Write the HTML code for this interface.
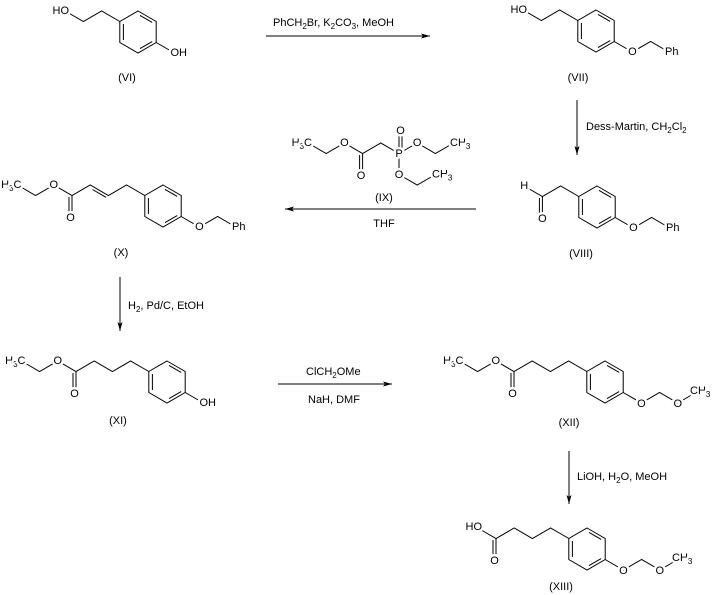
<!DOCTYPE html>
<html><head><meta charset="utf-8"><style>
html,body{margin:0;padding:0;background:#fff;}
svg{display:block;}
text{font-family:"Liberation Sans",Arial,sans-serif;font-size:11px;fill:#000;}
.a{paint-order:stroke;stroke:#fff;stroke-width:5px;stroke-linejoin:round;dominant-baseline:central;}
.l{dominant-baseline:central;}
</style></head><body>
<svg width="713" height="595" viewBox="0 0 713 595" xmlns="http://www.w3.org/2000/svg">
<defs>
<g id="ring" fill="none" stroke="#000" stroke-width="1">
<path d="M0,-21 L18.2,-10.5 L18.2,10.5 L0,21 L-18.2,10.5 L-18.2,-10.5 Z"/>
<path d="M-14.6,-8 L-14.6,8 M2,-16.6 L14.2,-9.6 M2,16.6 L14.2,9.6"/>
</g>
<marker id="ah" markerWidth="10" markerHeight="6" refX="9" refY="3" orient="auto" markerUnits="userSpaceOnUse">
<path d="M0,0.5 L9,3 L0,5.5 L2,3 Z" fill="#000"/>
</marker>
</defs>
<g stroke="#000" stroke-width="1" fill="none">
<!-- arrows -->
<line x1="266" y1="36" x2="430" y2="36" marker-end="url(#ah)"/>
<line x1="577" y1="100" x2="577" y2="155" marker-end="url(#ah)"/>
<line x1="476" y1="209" x2="285" y2="209" marker-end="url(#ah)"/>
<line x1="120" y1="277" x2="120" y2="331" marker-end="url(#ah)"/>
<line x1="278" y1="384" x2="392" y2="384" marker-end="url(#ah)"/>
<line x1="569" y1="451" x2="569" y2="504" marker-end="url(#ah)"/>

<!-- VI -->
<polyline points="65.2,11 83.4,21.5 101.6,11 119.8,21.5"/>
<line x1="156.2" y1="42.5" x2="174.4" y2="53"/>
<!-- VII -->
<polyline points="523.2,10 541.4,20.5 559.6,10 577.8,20.5"/>
<polyline points="614.2,41.5 632.4,52 650.6,41.5 668.8,52"/>
<!-- VIII -->
<polyline points="524.2,186 542.4,196.5 560.6,186 578.8,196.5"/>
<line x1="542.4" y1="196.5" x2="542.4" y2="217.5"/><line x1="539.4" y1="198" x2="539.4" y2="217.5"/>
<polyline points="615.2,217.5 633.4,228 651.6,217.5 669.8,228"/>
<!-- IX -->
<polyline points="308,143 326.2,153.5 344.4,143 362.6,153.5 380.8,143 399,153.5"/>
<line x1="362.6" y1="153.5" x2="362.6" y2="174.5"/><line x1="359.6" y1="155" x2="359.6" y2="174.5"/>
<line x1="399" y1="153.5" x2="399" y2="132.5"/><line x1="402" y1="152" x2="402" y2="132.5"/>
<polyline points="399,153.5 417.2,143 435.4,153.5 453.6,143"/>
<polyline points="399,153.5 399,174.5 417.2,185 435.4,174.5"/>
<!-- X -->
<polyline points="17.4,185 35.6,195.5 53.8,185 72,195.5 90.2,185 108.4,195.5 126.6,185 144.8,195.5"/>
<line x1="92.5" y1="189.5" x2="106" y2="197.3"/>
<line x1="72" y1="195.5" x2="72" y2="216.5"/><line x1="69" y1="197" x2="69" y2="216.5"/>
<polyline points="181.2,216.5 199.4,227 217.6,216.5 235.8,227"/>
<!-- XI -->
<polyline points="21.4,361 39.6,371.5 57.8,361 76,371.5 94.2,361 112.4,371.5 130.6,361 148.8,371.5"/>
<line x1="76" y1="371.5" x2="76" y2="392.5"/><line x1="73" y1="373" x2="73" y2="392.5"/>
<line x1="185.2" y1="392.5" x2="203.4" y2="403"/>
<!-- XII -->
<polyline points="459.4,361 477.6,371.5 495.8,361 514,371.5 532.2,361 550.4,371.5 568.6,361 586.8,371.5"/>
<line x1="514" y1="371.5" x2="514" y2="392.5"/><line x1="511" y1="373" x2="511" y2="392.5"/>
<polyline points="623.2,392.5 641.4,403 659.6,392.5 677.8,403 694,393.5"/>
<!-- XIII -->
<polyline points="477.8,528 496,538.5 514.2,528 532.4,538.5 550.6,528 568.8,538.5"/>
<line x1="496" y1="538.5" x2="496" y2="559.5"/><line x1="493" y1="540" x2="493" y2="559.5"/>
<polyline points="605.2,559.5 623.4,570 641.6,559.5 659.8,570 676,560.5"/>
</g>
<use href="#ring" x="138" y="32"/>
<use href="#ring" x="596" y="31"/>
<use href="#ring" x="597" y="207"/>
<use href="#ring" x="163" y="206"/>
<use href="#ring" x="167" y="382"/>
<use href="#ring" x="605" y="382"/>
<use href="#ring" x="587" y="549"/>

<!-- atom labels -->
<text class="a" x="69" y="11" text-anchor="end">HO</text>
<text class="a" x="170.5" y="53">OH</text>
<text class="a" x="527" y="10" text-anchor="end">HO</text>
<text class="a" x="632.4" y="52" text-anchor="middle">O</text>
<text class="a" x="665" y="52">Ph</text>
<text class="a" x="524.2" y="186" text-anchor="middle">H</text>
<text class="a" x="542.4" y="219" text-anchor="middle">O</text>
<text class="a" x="633.4" y="228" text-anchor="middle">O</text>
<text class="a" x="666" y="228">Ph</text>
<!-- IX -->
<text class="a" x="312" y="143" text-anchor="end">H<tspan font-size="8" dy="3">3</tspan><tspan dy="-3">C</tspan></text>
<text class="a" x="344.4" y="143" text-anchor="middle">O</text>
<text class="a" x="361" y="176" text-anchor="middle">O</text>
<text class="a" x="400.5" y="131" text-anchor="middle">O</text>
<text class="a" x="399" y="154" text-anchor="middle">P</text>
<text class="a" x="417.2" y="143" text-anchor="middle">O</text>
<text class="a" x="399" y="175" text-anchor="middle">O</text>
<text class="a" x="450" y="143">CH<tspan font-size="8" dy="3">3</tspan></text>
<text class="a" x="432" y="174.5">CH<tspan font-size="8" dy="3">3</tspan></text>
<text class="l" x="384" y="198" text-anchor="middle">(IX)</text>
<!-- X -->
<text class="a" x="21.5" y="185" text-anchor="end">H<tspan font-size="8" dy="3">3</tspan><tspan dy="-3">C</tspan></text>
<text class="a" x="53.8" y="185" text-anchor="middle">O</text>
<text class="a" x="70.5" y="218" text-anchor="middle">O</text>
<text class="a" x="199.4" y="227" text-anchor="middle">O</text>
<text class="a" x="232" y="227">Ph</text>
<!-- XI -->
<text class="a" x="25.5" y="361" text-anchor="end">H<tspan font-size="8" dy="3">3</tspan><tspan dy="-3">C</tspan></text>
<text class="a" x="57.8" y="361" text-anchor="middle">O</text>
<text class="a" x="74.5" y="394" text-anchor="middle">O</text>
<text class="a" x="199.5" y="403">OH</text>
<!-- XII -->
<text class="a" x="463.5" y="361" text-anchor="end">H<tspan font-size="8" dy="3">3</tspan><tspan dy="-3">C</tspan></text>
<text class="a" x="495.8" y="361" text-anchor="middle">O</text>
<text class="a" x="512.5" y="394" text-anchor="middle">O</text>
<text class="a" x="641.4" y="404" text-anchor="middle">O</text>
<text class="a" x="677.8" y="404" text-anchor="middle">O</text>
<text class="a" x="690" y="391">CH<tspan font-size="8" dy="3">3</tspan></text>
<!-- XIII -->
<text class="a" x="482" y="527" text-anchor="end">HO</text>
<text class="a" x="494.5" y="561" text-anchor="middle">O</text>
<text class="a" x="623.4" y="571" text-anchor="middle">O</text>
<text class="a" x="659.8" y="571" text-anchor="middle">O</text>
<text class="a" x="672" y="558">CH<tspan font-size="8" dy="3">3</tspan></text>

<!-- compound labels -->
<text class="l" x="127" y="78" text-anchor="middle">(VI)</text>
<text class="l" x="578" y="78" text-anchor="middle">(VII)</text>
<text class="l" x="581" y="254" text-anchor="middle">(VIII)</text>
<text class="l" x="121" y="253" text-anchor="middle">(X)</text>
<text class="l" x="118" y="421" text-anchor="middle">(XI)</text>
<text class="l" x="569" y="423" text-anchor="middle">(XII)</text>
<text class="l" x="561" y="587" text-anchor="middle">(XIII)</text>

<!-- reagents -->
<text class="l" x="273" y="23">PhCH<tspan font-size="8" dy="3">2</tspan><tspan dy="-3">Br, K</tspan><tspan font-size="8" dy="3">2</tspan><tspan dy="-3">CO</tspan><tspan font-size="8" dy="3">3</tspan><tspan dy="-3">, MeOH</tspan></text>
<text class="l" x="586" y="127">Dess-Martin, CH<tspan font-size="8" dy="3">2</tspan><tspan dy="-3">Cl</tspan><tspan font-size="8" dy="3">2</tspan></text>
<text class="l" x="384" y="224" text-anchor="middle">THF</text>
<text class="l" x="128" y="306">H<tspan font-size="8" dy="3">2</tspan><tspan dy="-3">, Pd/C, EtOH</tspan></text>
<text class="l" x="306" y="372">ClCH<tspan font-size="8" dy="3">2</tspan><tspan dy="-3">OMe</tspan></text>
<text class="l" x="308" y="400">NaH, DMF</text>
<text class="l" x="577" y="477">LiOH, H<tspan font-size="8" dy="3">2</tspan><tspan dy="-3">O, MeOH</tspan></text>
</svg>
</body></html>
